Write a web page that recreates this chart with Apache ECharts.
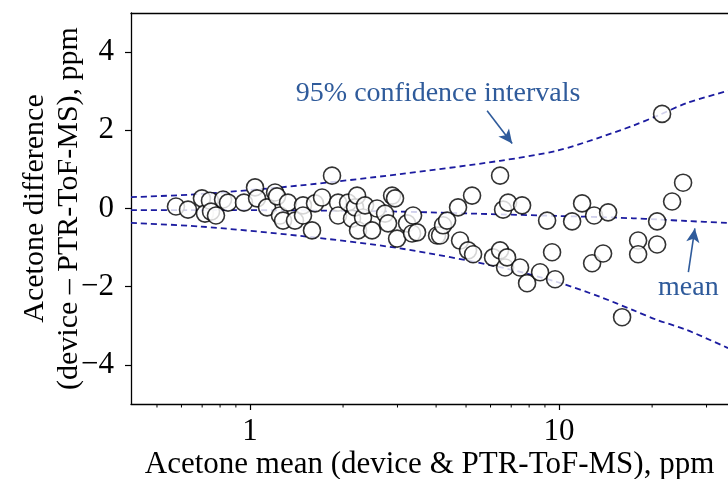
<!DOCTYPE html>
<html><head><meta charset="utf-8">
<script src="https://cdn.jsdelivr.net/npm/echarts@6/dist/echarts.min.js"></script>
<style>html,body{margin:0;padding:0;background:#fff}#c{width:728px;height:479px}</style>
</head><body><div id="c"></div>
<script>
// Scatter data: mean (x) and difference (y), ppm
const scatterX = [0.576,0.630,0.699,0.715,0.742,0.748,0.776,0.818,0.849,0.956,1.038,1.054,
  1.135,1.205,1.223,1.250,1.279,1.327,1.398,1.484,1.484,1.587,1.623,1.710,1.842,1.927,1.927,
  2.076,2.138,2.187,2.220,2.236,2.321,2.356,2.482,2.576,2.735,2.797,2.882,2.946,2.991,3.222,3.344,3.369,3.471,4.029,
  4.120,4.213,4.341,4.711,4.782,5.076,5.229,5.269,6.115,6.443,6.443,6.589,6.688,6.788,6.839,7.478,7.591,7.879,8.680,9.146,
  9.491,9.707,11.02,11.87,12.79,12.98,13.88,14.41,15.99,18.02,18.02,20.76,20.76,21.54,23.21,25.19];
const scatterY = [0.05,-0.03,0.26,-0.13,0.20,-0.08,-0.18,0.23,0.15,0.15,0.54,0.26,
  0.03,0.41,0.31,-0.18,-0.31,0.15,-0.31,0.08,-0.18,-0.56,0.13,0.28,0.84,0.15,-0.18,
  0.15,-0.26,0.03,0.33,-0.56,-0.23,0.08,-0.56,0.00,-0.13,-0.38,0.33,0.26,-0.77,-0.38,-0.64,-0.18,-0.61,-0.69,
  -0.69,-0.43,-0.31,0.03,-0.82,-1.07,0.33,-1.17,-1.25,0.84,-1.07,-0.03,-1.51,-1.25,0.15,-1.51,0.08,-1.91,-1.63,-0.31,
  -1.12,-1.81,-0.33,0.13,-1.40,-0.18,-1.15,-0.10,-2.78,-0.82,-1.17,-0.33,-0.92,2.42,0.18,0.66];

// Dashed curves
const curveX = [0.412,0.689,1.451,3.059,6.44,9.85,13.57,17.36,20.76,25.96,35.2];
const meanY  = [-0.04,-0.04,-0.05,-0.08,-0.15,-0.19,-0.22,-0.25,-0.28,-0.32,-0.37];
const upperY = [0.29,0.37,0.59,0.88,1.22,1.48,1.82,2.12,2.37,2.70,3.01];
const lowerY = [-0.37,-0.46,-0.70,-1.02,-1.50,-1.88,-2.26,-2.60,-2.85,-3.11,-3.57];

// Axis ticks
const xMajorTicks = [1, 10];
const xMinorTicks = [0.5,0.6,0.7,0.8,0.9,2,3,4,5,6,7,8,9,20,30];
const yTicks = [-4,-2,0,2,4];

const FONT = '"Liberation Serif","Times New Roman",serif';
const LINE_BLUE = '#1c1ca0';
const ANNO_BLUE = '#2f5b9b';
const X_MIN = 0.412, X_MAX = 35.2, Y_MIN = -5, Y_MAX = 5;

const chart = echarts.init(document.getElementById('c'), null, {renderer:'canvas'});
const zip = (a,b) => a.map((v,i)=>[v,b[i]]);
const dashed = (name, ys) => ({
  type:'line', name, data: zip(curveX, ys), smooth:0.3, showSymbol:false, symbol:'none',
  lineStyle:{color:LINE_BLUE, width:1.8, type:[6,4]}, z:2, silent:true
});

const option = {
  animation:false,
  backgroundColor:'#fff',
  grid:{left:131, right:0, top:13, bottom:75, containLabel:false, outerBoundsMode:'none'},
  xAxis:[
    {type:'log', min:X_MIN, max:X_MAX, position:'bottom',
     axisLine:{show:true, onZero:false, lineStyle:{color:'#000', width:1.3}},
     axisTick:{show:true, inside:false, length:6, customValues:xMajorTicks, lineStyle:{color:'#000', width:1.2}},
     axisLabel:{show:true, customValues:xMajorTicks, margin:12, color:'#000', fontFamily:FONT, fontSize:31},
     splitLine:{show:false}, minorTick:{show:false},
     name:'Acetone mean (device & PTR-ToF-MS), ppm', nameLocation:'middle', nameGap:45, nameMoveOverlap:false,
     nameTextStyle:{color:'#000', fontFamily:FONT, fontSize:31}},
    {type:'value', min:0, max:1, position:'top', gridIndex:0,
     axisLine:{show:true, onZero:false, lineStyle:{color:'#000', width:1.3}},
     axisTick:{show:false}, axisLabel:{show:false}, splitLine:{show:false}}
  ],
  yAxis:{type:'value', min:Y_MIN, max:Y_MAX,
    axisLine:{show:true, onZero:false, lineStyle:{color:'#000', width:1.3}},
    axisTick:{show:true, inside:false, length:6, customValues:yTicks, lineStyle:{color:'#000', width:1.2}},
    axisLabel:{show:true, customValues:yTicks, margin:17, color:'#000', fontFamily:FONT, fontSize:31,
      formatter: v => (v < 0 ? '\u2212' + Math.abs(v) : String(v))},
    splitLine:{show:false},
    name:'Acetone difference\n(device \u2013 PTR-ToF-MS), ppm', nameLocation:'middle', nameRotate:90, nameGap:45,
    nameMoveOverlap:false,
    nameTextStyle:{color:'#000', fontFamily:FONT, fontSize:30, lineHeight:34}},
  series:[
    dashed('mean', meanY),
    dashed('upper', upperY),
    dashed('lower', lowerY),
    {type:'scatter', name:'points', data: zip(scatterX, scatterY), symbol:'circle', symbolSize:17,
     itemStyle:{color:'#fff', borderColor:'#000', borderWidth:1.6}, z:3, silent:true},
    // minor log ticks on the bottom axis, placed through the x scale
    {type:'custom', name:'minorTicks', data: xMinorTicks.map(v => [v, Y_MIN]), clip:false, silent:true, z:5,
     renderItem: (params, api) => {
       const p = api.coord([api.value(0), api.value(1)]);
       return {type:'line', shape:{x1:p[0], y1:p[1], x2:p[0], y2:p[1] + 3.5},
               style:{stroke:'#000', lineWidth:1}};
     }},
    {type:'line', name:'arrows', data:[], silent:true, z:4,
     markLine:{silent:true, symbol:['none','arrow'], symbolSize:[10,14], animation:false,
       label:{show:false},
       lineStyle:{color:ANNO_BLUE, width:1.6, type:'solid'},
       data:[
         [{coord:[5.85,2.50]},{coord:[7.05,1.66]}],
         [{coord:[26.2,-1.63]},{coord:[27.5,-0.51]}]
       ]}}
  ]
};
chart.setOption(option);

const annos = [
  {text:'95% confidence intervals', at:[4.06, 2.93]},
  {text:'mean', at:[26.2, -2.02]}
];
chart.setOption({graphic: annos.map(a => {
  const p = chart.convertToPixel({xAxisIndex:0, yAxisIndex:0}, a.at);
  return {type:'text', x:p[0], y:p[1], z:10,
    style:{text:a.text, fill:ANNO_BLUE, font:'28px ' + FONT, textAlign:'center', textVerticalAlign:'middle'}};
})});
</script>
</body></html>
